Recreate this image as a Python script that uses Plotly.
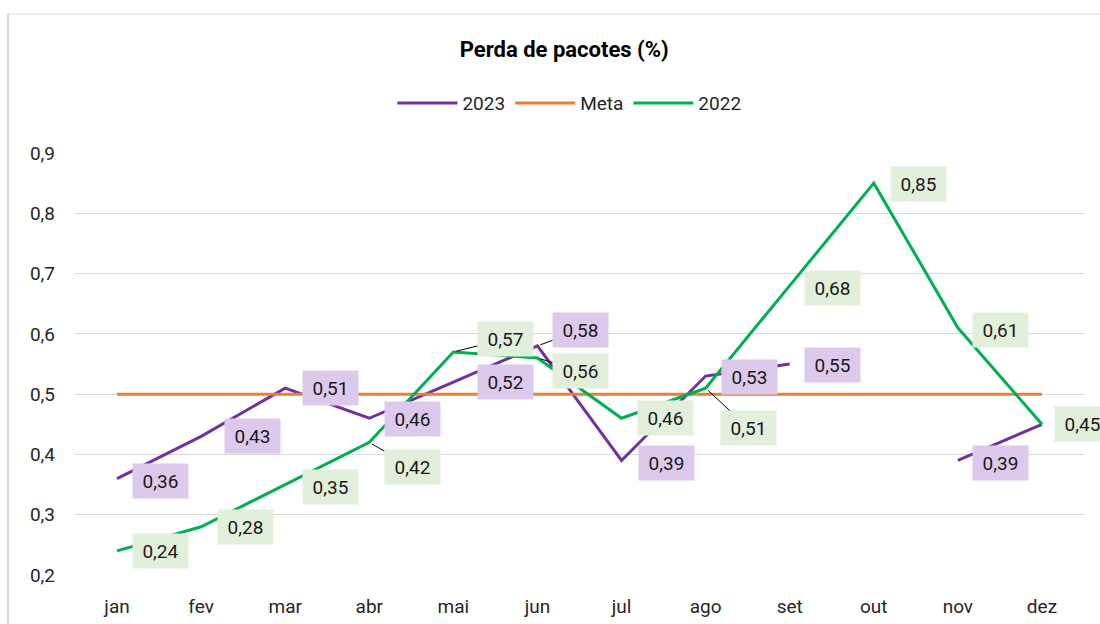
import plotly.graph_objects as go

# Categories and series
meses = ["jan", "fev", "mar", "abr", "mai", "jun", "jul", "ago", "set", "out", "nov", "dez"]
valores_2023 = [0.36, 0.43, 0.51, 0.46, 0.52, 0.58, 0.39, 0.53, 0.55, None, 0.39, 0.45]
valores_2022 = [0.24, 0.28, 0.35, 0.42, 0.57, 0.56, 0.46, 0.51, 0.68, 0.85, 0.61, 0.45]
meta = [0.50] * 12
y_ticks = [0.2, 0.3, 0.4, 0.5, 0.6, 0.7, 0.8, 0.9]

ROXO = "#7030A0"
LARANJA = "#ED7D31"
VERDE = "#00B050"
ROXO_CLARO = "#DCC9EC"
VERDE_CLARO = "#E2EFDA"
FONTE = "Roboto"


def fmt(v):
    return f"{v:.2f}".replace(".", ",")


fig = go.Figure()
fig.add_trace(go.Scatter(x=meses, y=valores_2023, name="2023", mode="lines",
                         line=dict(color=ROXO, width=3), connectgaps=False))
fig.add_trace(go.Scatter(x=meses, y=meta, name="Meta", mode="lines",
                         line=dict(color=LARANJA, width=3)))
fig.add_trace(go.Scatter(x=meses, y=valores_2022, name="2022", mode="lines",
                         line=dict(color=VERDE, width=3)))

# Label placement (pixel offsets of the label centre from the point);
# entries with leader=True get a thin connector line.
pos_2023 = {
    "jan": (43, -2, False), "fev": (51, 0, False), "mar": (45, 0, False),
    "abr": (43, -1, False), "mai": (52, 0, False), "jun": (43, 16, True),
    "jul": (45, -3, False), "ago": (44, -1, False), "set": (43, -1, False),
    "nov": (43, -3, False),
}
pos_2022 = {
    "jan": (43, 0, False), "fev": (44, 0, False), "mar": (45, -2, False),
    "abr": (43, -25, True), "mai": (52, 13, True), "jun": (43, -13, True),
    "jul": (44, 0, False), "ago": (43, -40, True), "set": (43, -2, False),
    "out": (45, -1, False), "nov": (43, -2, False), "dez": (41, 0, False),
}

annotations = []
for serie, pos, bg in ((valores_2023, pos_2023, ROXO_CLARO), (valores_2022, pos_2022, VERDE_CLARO)):
    for m, v in zip(meses, serie):
        if v is None or m not in pos:
            continue
        dx, dy, leader = pos[m]
        base = dict(x=m, y=v, text=fmt(v), bgcolor=bg, width=49, height=28,
                    borderpad=3, font=dict(family=FONTE, size=19, color="#1a1a1a"))
        if leader:
            base.update(showarrow=True, ax=dx, ay=-dy, arrowhead=0, arrowwidth=1,
                        arrowcolor="#000000", standoff=3)
        else:
            base.update(showarrow=False, xshift=dx, yshift=dy)
        annotations.append(base)

fig.update_layout(
    width=1100, height=624,
    margin=dict(l=75, r=16, t=153, b=49),
    paper_bgcolor="white", plot_bgcolor="white",
    font=dict(family=FONTE, size=19, color="#262626"),
    title=dict(text="<b>Perda de pacotes (%)</b>", x=0.513, xanchor="center",
               y=1 - 49 / 624, yanchor="middle",
               font=dict(family=FONTE, size=22, color="#000000")),
    legend=dict(orientation="h", x=0.49, xanchor="center", y=1.118, yanchor="middle",
                font=dict(family=FONTE, size=19, color="#262626"),
                itemwidth=60, tracegroupgap=0),
    xaxis=dict(range=[-0.5, 11.5], showgrid=False, showline=False, ticks="",
               tickfont=dict(size=19), ticklabelstandoff=18, automargin=False),
    yaxis=dict(range=[0.2, 0.9], tickvals=y_ticks, ticktext=[fmt(t)[:-1] for t in y_ticks],
               showgrid=True, gridcolor="#D9D9D9", gridwidth=1, zeroline=False,
               showline=False, ticks="", tickfont=dict(size=19), ticklabelstandoff=19,
               automargin=False),
    annotations=annotations,
    shapes=[
        dict(type="line", xref="paper", yref="paper", x0=(8 - 75) / 1009, x1=(8 - 75) / 1009,
             y0=(575 - 14) / 422, y1=-0.2, line=dict(color="#D9D9D9", width=2)),
        dict(type="line", xref="paper", yref="paper", x0=(8 - 75) / 1009, x1=1.1,
             y0=(575 - 14) / 422, y1=(575 - 14) / 422, line=dict(color="#D9D9D9", width=1)),
    ],
    hovermode=False,
)

fig.write_html("out.html")
